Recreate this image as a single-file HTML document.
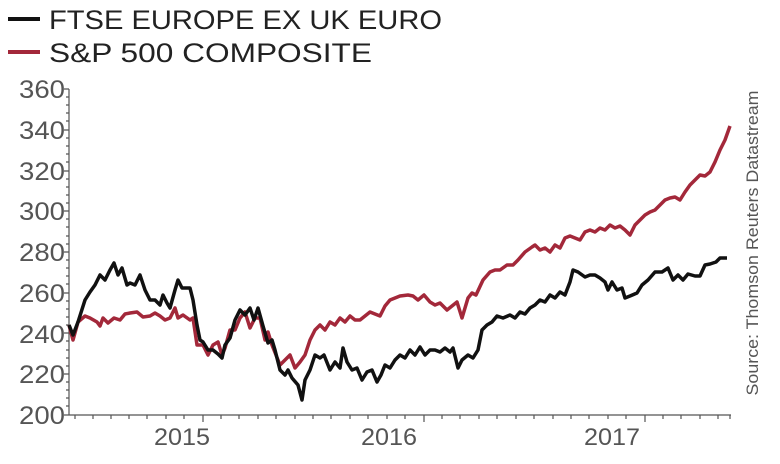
<!DOCTYPE html>
<html><head><style>
body{margin:0;background:#fff;}
svg{display:block;font-family:"Liberation Sans",sans-serif;}
</style></head><body>
<svg width="780" height="464" viewBox="0 0 780 464">
<line x1="8" y1="19" x2="40" y2="19" stroke="#111" stroke-width="4"/>
<text x="49" y="29" font-size="27" fill="#222" textLength="393" lengthAdjust="spacingAndGlyphs">FTSE EUROPE EX UK EURO</text>
<line x1="8" y1="52" x2="40" y2="52" stroke="#a3283a" stroke-width="4"/>
<text x="49" y="62" font-size="27" fill="#222" textLength="323" lengthAdjust="spacingAndGlyphs">S&amp;P 500 COMPOSITE</text>
<g fill="#555" font-size="25" text-anchor="end">
<text x="65" y="98" textLength="46" lengthAdjust="spacingAndGlyphs">360</text><text x="65" y="139" textLength="46" lengthAdjust="spacingAndGlyphs">340</text><text x="65" y="180" textLength="46" lengthAdjust="spacingAndGlyphs">320</text>
<text x="65" y="220" textLength="46" lengthAdjust="spacingAndGlyphs">300</text><text x="65" y="261" textLength="46" lengthAdjust="spacingAndGlyphs">280</text><text x="65" y="302" textLength="46" lengthAdjust="spacingAndGlyphs">260</text>
<text x="65" y="343" textLength="46" lengthAdjust="spacingAndGlyphs">240</text><text x="65" y="383" textLength="46" lengthAdjust="spacingAndGlyphs">220</text><text x="65" y="424" textLength="46" lengthAdjust="spacingAndGlyphs">200</text>
</g>
<g stroke="#555" stroke-width="1.2">
<line x1="69" y1="89" x2="69" y2="415"/>
<line x1="69" y1="415" x2="731" y2="415"/>
<path d="M64 89h5M64 130h5M64 171h5M64 211h5M64 252h5M64 293h5M64 333h5M64 374h5M64 415h5"/>
<path d="M66 97h3M66 105h3M66 113h3M66 121h3M66 138h3M66 146h3M66 154h3M66 162h3M66 179h3M66 187h3M66 195h3M66 203h3M66 219h3M66 227h3M66 236h3M66 244h3M66 260h3M66 268h3M66 276h3M66 284h3M66 301h3M66 309h3M66 317h3M66 325h3M66 341h3M66 350h3M66 358h3M66 366h3M66 382h3M66 390h3M66 398h3M66 406h3"/>
<path d="M75 415v4M93 415v4M111 415v4M129 415v4M147 415v4M166 415v4M184 415v4M203 415v7M221 415v4M239 415v4M258 415v4M276 415v4M295 415v4M313 415v4M331 415v4M350 415v4M368 415v4M387 415v4M405 415v4M424 415v7M442 415v4M460 415v4M479 415v4M497 415v4M516 415v4M534 415v4M553 415v4M571 415v4M589 415v4M608 415v4M626 415v4M645 415v7M663 415v4M681 415v4M700 415v4M718 415v4M730 415v4"/>
</g>
<g fill="#555" font-size="24" text-anchor="middle">
<text x="182" y="445" textLength="56" lengthAdjust="spacingAndGlyphs">2015</text><text x="389" y="445" textLength="56" lengthAdjust="spacingAndGlyphs">2016</text><text x="612" y="445" textLength="56" lengthAdjust="spacingAndGlyphs">2017</text>
</g>
<text transform="translate(758,243) rotate(-90)" font-size="17" fill="#555" text-anchor="middle" textLength="305" lengthAdjust="spacingAndGlyphs">Source: Thomson Reuters Datastream</text>
<polyline fill="none" stroke="#a3283a" stroke-width="3.5" stroke-linejoin="round" points="69,325 73,340 78,322 85,316 90,318 97,322 100,326 103,318 108,323 114,318 120,320 125,314 130,313 137,312 143,317 150,316 155,313 160,316 165,320 170,318 175,308 178,318 183,315 190,320 193,318 197,345 203,345 208,355 213,345 218,342 222,355 225,348 230,330 235,330 240,318 245,312 250,328 255,318 260,318 265,340 268,332 272,345 280,365 285,360 290,355 295,368 300,362 305,355 310,340 315,330 320,325 325,330 330,322 335,325 340,318 345,322 350,316 355,320 360,320 365,316 370,312 375,314 380,316 385,306 390,300 395,298 400,296 408,295 413,296 418,300 424,295 430,302 435,305 440,303 447,310 452,306 457,302 462,318 468,298 472,293 476,295 483,280 490,272 495,270 500,270 507,265 513,265 518,260 525,252 532,247 535,245 540,250 545,248 550,252 555,245 560,248 565,238 570,236 575,238 580,240 585,232 590,230 595,232 600,228 605,230 610,225 615,228 620,226 625,230 630,235 635,225 640,220 645,215 650,212 655,210 660,205 665,200 670,198 675,197 680,200 685,192 690,185 695,180 700,175 705,176 710,172 715,162 720,150 725,140 730,126"/>
<polyline fill="none" stroke="#111" stroke-width="3.5" stroke-linejoin="round" points="69,325 73,335 78,322 85,300 90,292 95,285 100,275 105,280 110,270 114,263 118,275 122,268 127,285 130,283 135,285 140,275 145,290 150,300 155,300 160,305 163,295 167,303 170,308 175,290 178,280 182,288 190,288 193,300 197,325 200,340 203,342 208,350 213,350 218,354 222,358 225,345 230,338 235,320 240,310 245,315 250,308 254,320 258,308 263,326 268,343 272,340 275,350 280,370 285,375 288,370 292,378 298,385 302,400 305,380 310,370 315,355 320,358 324,355 330,370 335,362 340,368 343,348 347,362 352,370 357,368 362,380 367,372 372,370 377,382 381,375 385,365 390,368 395,360 400,355 405,358 410,350 415,355 420,347 425,355 430,350 435,350 440,352 445,348 450,352 453,348 458,368 462,360 468,355 473,358 478,350 482,330 487,325 492,322 497,316 503,318 510,315 515,318 520,312 525,314 530,308 535,305 540,300 545,302 550,295 555,298 560,292 565,295 570,282 573,270 578,272 585,277 590,275 595,275 600,278 605,282 608,290 612,282 617,290 622,288 625,298 630,296 637,293 642,285 648,280 655,272 662,272 668,268 673,280 678,275 683,280 688,274 695,276 700,276 705,265 710,264 716,262 720,258 727,258"/>
</svg>
</body></html>
